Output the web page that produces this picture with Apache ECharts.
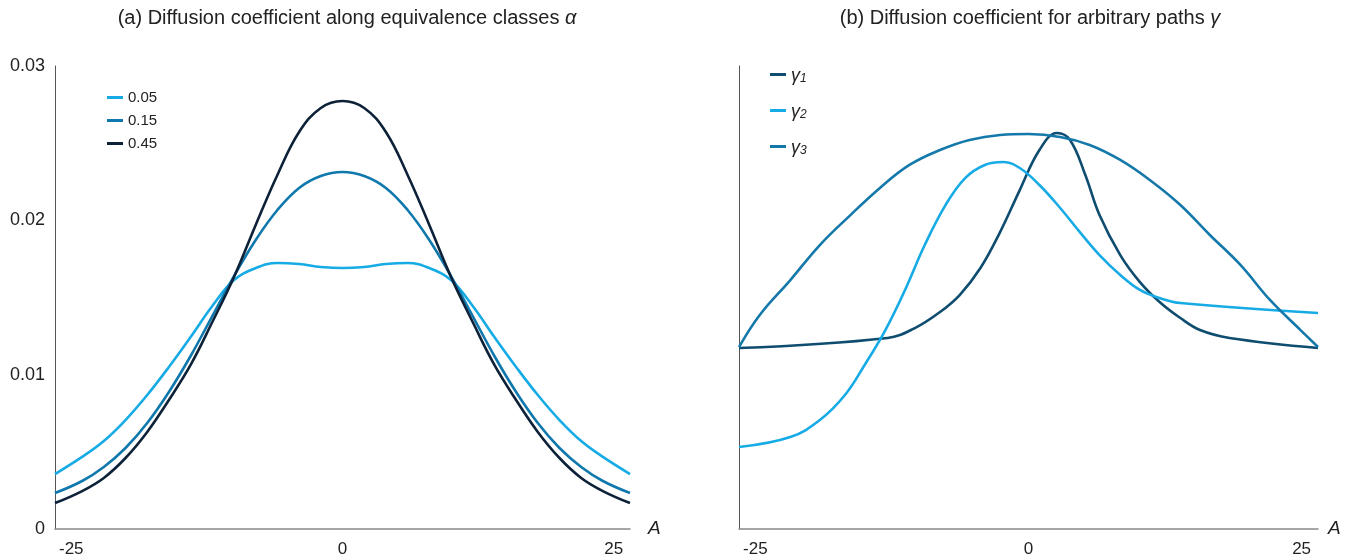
<!DOCTYPE html>
<html>
<head>
<meta charset="utf-8">
<script src="https://cdn.jsdelivr.net/npm/echarts@6/dist/echarts.min.js"></script>
<style>html,body{margin:0;padding:0;background:#fff;}#c{width:1354px;height:558px;}</style>
</head>
<body>
<div id="c"></div>
<script>
// ---- Data (a): diffusion coefficient along equivalence classes ----
const xA = [-26.5,-24,-22,-20,-18,-16,-14,-12,-10,-8,-6,-4,-2,0,2,4,6,8,10,12,14,16,18,20,22,24,26.5];
const a005 = [0.00356,0.00467,0.00570,0.00706,0.00868,0.01050,0.01244,0.01445,0.01613,0.01691,0.01724,0.01717,0.01698,0.01691,0.01698,0.01717,0.01724,0.01691,0.01613,0.01445,0.01244,0.01050,0.00868,0.00706,0.00570,0.00467,0.00356];
const a015 = [0.00233,0.00311,0.00402,0.00525,0.00687,0.00888,0.01121,0.01380,0.01639,0.01873,0.02067,0.02210,0.02287,0.02313,0.02287,0.02210,0.02067,0.01873,0.01639,0.01380,0.01121,0.00888,0.00687,0.00525,0.00402,0.00311,0.00233];
const a045 = [0.00168,0.00246,0.00331,0.00460,0.00629,0.00836,0.01063,0.01341,0.01633,0.01970,0.02294,0.02572,0.02728,0.02773,0.02728,0.02572,0.02294,0.01970,0.01633,0.01341,0.01063,0.00836,0.00629,0.00460,0.00331,0.00246,0.00168];
const namesA = ['0.05','0.15','0.45'];

// ---- Data (b): diffusion coefficient for arbitrary paths ----
const g1x = [-26.5,-12.9,-10.4,-8.1,-6.3,-4.4,-2.6,-0.8,1.0,2.6,3.8,5.2,6.5,8.4,10.2,12.0,13.9,15.7,18.4,26.5];
const g1y = [0.01173,0.01238,0.01302,0.01406,0.01516,0.01691,0.01924,0.02196,0.02456,0.02566,0.02521,0.02294,0.02034,0.01775,0.01600,0.01471,0.01367,0.01289,0.01238,0.01173];
const g2x = [-26.5,-21.8,-19.1,-16.8,-15.0,-13.1,-11.3,-9.5,-7.6,-5.8,-4.0,-2.3,-0.8,1.0,2.9,4.7,6.5,8.4,10.2,12.0,13.9,26.5];
const g2y = [0.00531,0.00596,0.00706,0.00868,0.01063,0.01289,0.01549,0.01840,0.02099,0.02274,0.02359,0.02378,0.02339,0.02229,0.02080,0.01924,0.01775,0.01646,0.01549,0.01497,0.01464,0.01400];
const g3x = [-26.5,-24.6,-21.8,-19.1,-16.3,-13.6,-10.9,-8.1,-5.4,-2.6,0.0,2.9,5.6,8.4,11.1,13.9,16.6,19.4,22.1,24.9,26.5];
const g3y = [0.01179,0.01387,0.01613,0.01840,0.02034,0.02210,0.02359,0.02456,0.02521,0.02553,0.02559,0.02540,0.02488,0.02391,0.02261,0.02099,0.01905,0.01711,0.01484,0.01289,0.01179];
const namesB = ['γ1','γ2','γ3'];

const xTicks = [-25, 0, 25];

const LIGHT = '#17abe6', MED = '#0f78ad', DARK = '#0d2238', G1 = '#0f4d70', G3 = '#1479aa';
const FONT = 'Liberation Sans, Arial, sans-serif';
const pair = (xs, ys) => xs.map((x, i) => [x, ys[i]]);

function xAxis(gi, gap) {
  return {
    type: 'value', gridIndex: gi, min: -26.5, max: 26.5,
    axisLine: { show: true, onZero: false, lineStyle: { color: '#888', width: 1.5 } },
    axisTick: { show: false }, splitLine: { show: false },
    axisLabel: { customValues: xTicks, color: '#222', fontSize: 17, fontFamily: FONT, margin: 12 },
    name: 'A', nameLocation: 'end', nameGap: gap,
    nameTextStyle: { fontStyle: 'italic', fontSize: 19, color: '#222', fontFamily: FONT, verticalAlign: 'middle' }
  };
}
function yAxis(gi, labels) {
  return {
    type: 'value', gridIndex: gi, min: 0, max: 0.03, interval: 0.01,
    axisLine: { show: true, onZero: false, lineStyle: { color: '#555', width: 1 } },
    axisTick: { show: false }, splitLine: { show: false },
    axisLabel: { show: labels, color: '#222', fontSize: 18, fontFamily: FONT, margin: 10,
      formatter: v => v === 0 ? '0' : String(+v.toFixed(2)) }
  };
}
function line(name, data, color, xi) {
  return { name, type: 'line', xAxisIndex: xi, yAxisIndex: xi, data, showSymbol: false, symbol: 'none',
    smooth: 0.4, lineStyle: { color, width: 2.6 }, itemStyle: { color } };
}

const chart = echarts.init(document.getElementById('c'), null, { renderer: 'canvas' });
chart.setOption({
  animation: false,
  backgroundColor: '#fff',
  title: [
    { text: '(a) Diffusion coefficient along equivalence classes {i|α}', left: 342, top: 3, textAlign: 'center',
      textStyle: { fontSize: 20, fontWeight: 'normal', color: '#222', fontFamily: FONT,
        rich: { i: { fontStyle: 'italic', fontSize: 20, color: '#222', fontFamily: FONT } } } },
    { text: '(b) Diffusion coefficient for arbitrary paths {i|γ}', left: 1025, top: 3, textAlign: 'center',
      textStyle: { fontSize: 20, fontWeight: 'normal', color: '#222', fontFamily: FONT,
        rich: { i: { fontStyle: 'italic', fontSize: 20, color: '#222', fontFamily: FONT } } } }
  ],
  grid: [
    { left: 55, right: 724, top: 66, bottom: 29 },
    { left: 739, right: 36, top: 66, bottom: 29 }
  ],
  xAxis: [xAxis(0, 18), xAxis(1, 10)],
  yAxis: [yAxis(0, true), yAxis(1, false)],
  legend: [
    { data: namesA, orient: 'vertical', left: 102, top: 85, itemWidth: 16, itemHeight: 3, icon: 'rect', itemGap: 8,
      textStyle: { fontSize: 15, color: '#222', fontFamily: FONT } },
    { data: namesB, orient: 'vertical', left: 765, top: 62, itemWidth: 16, itemHeight: 3, icon: 'rect', itemGap: 18,
      formatter: n => '{g|γ}{s|' + n.slice(1) + '}',
      textStyle: { color: '#222', fontFamily: FONT,
        rich: { g: { fontSize: 18, fontStyle: 'italic', color: '#222', fontFamily: FONT, verticalAlign: 'bottom' },
                s: { fontSize: 12, fontStyle: 'italic', color: '#222', fontFamily: FONT, padding: [9, 0, 0, 0], verticalAlign: 'bottom' } } } }
  ],
  series: [
    line('0.05', pair(xA, a005), LIGHT, 0),
    line('0.15', pair(xA, a015), MED, 0),
    line('0.45', pair(xA, a045), DARK, 0),
    line('γ1', pair(g1x, g1y), G1, 1),
    line('γ2', pair(g2x, g2y), LIGHT, 1),
    line('γ3', pair(g3x, g3y), G3, 1)
  ]
});
</script>
</body>
</html>
